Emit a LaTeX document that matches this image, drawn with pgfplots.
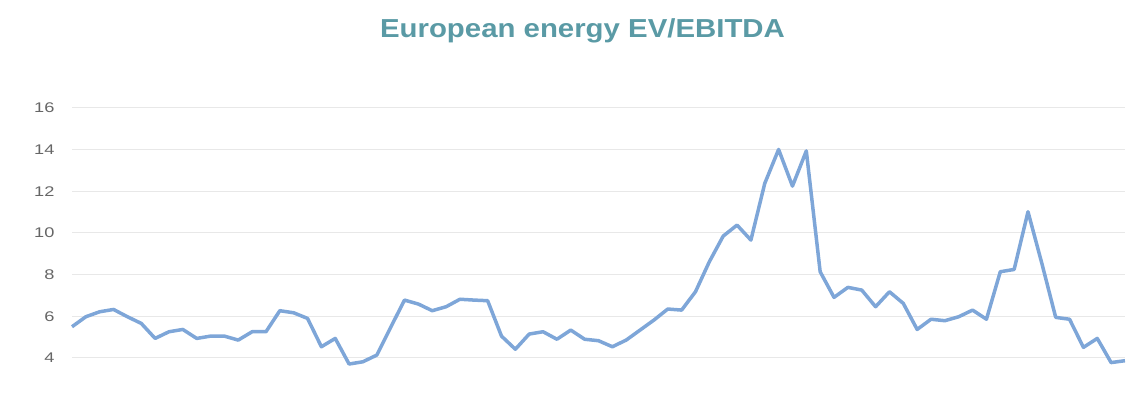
\documentclass[border=0pt]{standalone}
\usepackage{pgfplots}
\pgfplotsset{compat=1.18}
\usepackage{fontspec}
\setmainfont{Liberation Sans}[FakeStretch=1.3]
\newfontfamily\titlefont{Liberation Sans}[FakeStretch=1.13]
\definecolor{titlecol}{HTML}{5A9AA5}
\definecolor{linecol}{HTML}{7EA6D8}
\definecolor{gridcol}{HTML}{E8E8E8}
\definecolor{tickcol}{HTML}{666666}
\begin{document}
\begin{tikzpicture}
\useasboundingbox (-72pt,0pt) rectangle (1069pt,393pt);
\begin{axis}[
  at={(0pt,0pt)}, anchor=south west,
  scale only axis, width=1053pt, height=285pt,
  xmin=0, xmax=76, ymin=2.32, ymax=16,
  axis line style={draw=none},
  ytick={4,6,...,16}, xtick=\empty,
  ymajorgrids, grid style={gridcol, line width=1pt},
  major tick length=0pt,
  /pgf/number format/assume math mode=true,
  yticklabel style={font=\fontsize{14}{16}\selectfont, text=tickcol, anchor=east, xshift=-14pt},
  title={European energy EV/EBITDA},
  title style={at={(0.4848,1.228)}, anchor=base, yshift=0pt, inner sep=0pt, font=\titlefont\fontsize{26}{30}\selectfont\bfseries, text=titlecol},
  clip=false,
]
\addplot[linecol, line width=3.5pt, line join=round, no markers] coordinates {
(0,5.50) (1,5.98) (2,6.22) (3,6.33) (4,5.98) (5,5.66) (6,4.94) (7,5.26) (8,5.37) (9,4.94)
(10,5.05) (11,5.05) (12,4.86) (13,5.26) (14,5.26) (15,6.27) (16,6.17) (17,5.90) (18,4.54) (19,4.94)
(20,3.71) (21,3.82) (22,4.14) (23,5.47) (24,6.78) (25,6.59) (26,6.27) (27,6.46) (28,6.82) (29,6.78)
(30,6.75) (31,5.05) (32,4.42) (33,5.15) (34,5.26) (35,4.90) (36,5.34) (37,4.90) (38,4.83) (39,4.54)
(40,4.86) (41,5.34) (42,5.82) (43,6.35) (44,6.30) (45,7.18) (46,8.62) (47,9.85) (48,10.38) (49,9.66)
(50,12.38) (51,14.01) (52,12.25) (53,13.94) (54,8.14) (55,6.91) (56,7.39) (57,7.26) (58,6.46) (59,7.18)
(60,6.62) (61,5.37) (62,5.86) (63,5.79) (64,5.98) (65,6.30) (66,5.86) (67,8.14) (68,8.25) (69,11.02)
(70,8.54) (71,5.95) (72,5.86) (73,4.51) (74,4.94) (75,3.78) (76,3.87)
};
\end{axis}
\end{tikzpicture}
\end{document}
